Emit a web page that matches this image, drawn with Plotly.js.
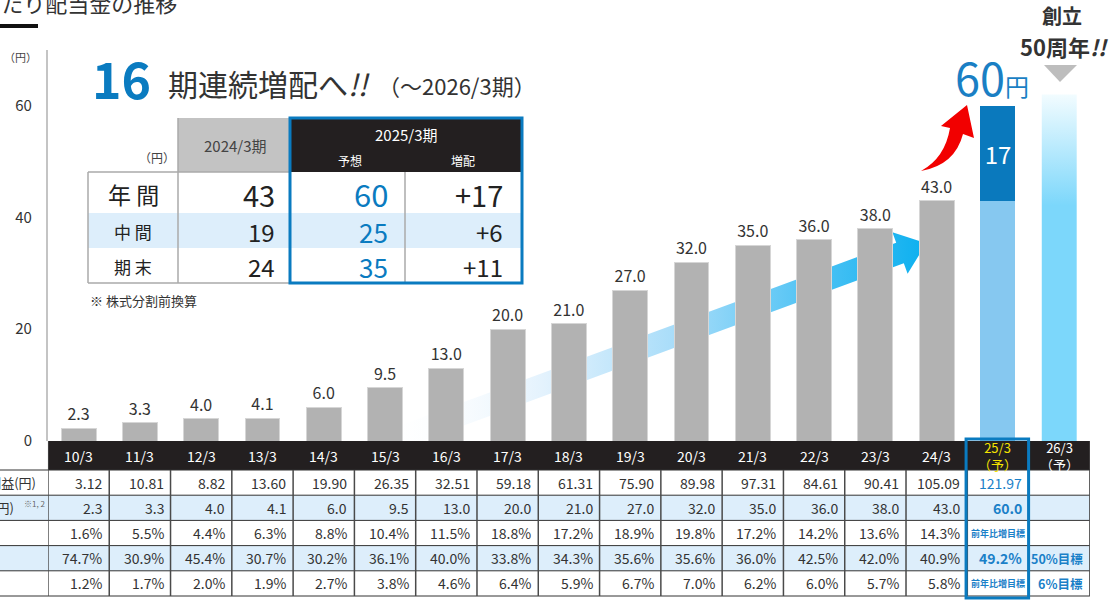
<!DOCTYPE html>
<html><head><meta charset="utf-8">
<script src="https://cdn.plot.ly/plotly-3.0.1.min.js"></script>
<style>html,body{margin:0;padding:0;background:#fff}#chart{width:1111px;height:601px}</style>
</head><body><div id="chart"></div>
<script>
// ---------------- data ----------------
const years = ['10/3','11/3','12/3','13/3','14/3','15/3','16/3','17/3','18/3','19/3','20/3','21/3','22/3','23/3','24/3','25/3','26/3'];
const forecastNote = '（予）';
const dividends = [2.3,3.3,4.0,4.1,6.0,9.5,13.0,20.0,21.0,27.0,32.0,35.0,36.0,38.0,43.0];
const dividendForecast = 60;           // 25/3 (予)
const futureBarHeight = 62;            // 26/3 decorative bar
const eps = [3.12,10.81,8.82,13.60,19.90,26.35,32.51,59.18,61.31,75.90,89.98,97.31,84.61,90.41,105.09];
const epsForecast = 121.97;
const row3 = [1.6,5.5,4.4,6.3,8.8,10.4,11.5,18.8,17.2,18.9,19.8,17.2,14.2,13.6,14.3];
const payout = [74.7,30.9,45.4,30.7,30.2,36.1,40.0,33.8,34.3,35.6,35.6,36.0,42.5,42.0,40.9];
const payoutForecast = 49.2;
const doe = [1.2,1.7,2.0,1.9,2.7,3.8,4.6,6.4,5.9,6.7,7.0,6.2,6.0,5.7,5.8];
const targetText = '前年比増目標';
const payoutTarget2026 = '50%目標';
const doeTarget2026 = '6%目標';
const rowLabels = ['1株当たり当期純利益(円)','1株当たり配当金(円)'];
const yTicks = [0,20,40,60];

const summaryLabels = ['年 間','中 間','期 末'];
const summary2024 = [43,19,24];
const summary2025 = [60,25,35];

// ---------------- geometry helpers ----------------
const W = 1111, H = 601;
const X0 = 78.6, DX = 61.29, Y0 = 441, DY = 5.588;
const px = x => x / W;
const py = y => 1 - y / H;
const toXi = p => (p - X0) / DX;
const toYv = p => (Y0 - p) / DY;
const FONT = '"Noto Sans CJK JP", "Noto Sans", sans-serif';
const BLUE = '#0a7bc0';
const TBLUE = '#1a80c8';
const DARK = '#333333';

const n = years.length;
const histIdx = dividends.map((_, i) => i);
const fIdx = dividends.length;      // 25/3
const futIdx = fIdx + 1;            // 26/3
const barW = 0.57;

// ---------------- traces ----------------
// gradient arrow (base subplot, behind bars)
const S = [360, 452], E = [900, 253];
const len = Math.hypot(E[0]-S[0], E[1]-S[1]);
const d = [(E[0]-S[0])/len, (E[1]-S[1])/len];
const nv = [-d[1], d[0]];
const hw = 11, hh = 22, hl = 28;
const arrowPix = [
  [S[0]+nv[0]*hw, S[1]+nv[1]*hw],
  [E[0]+nv[0]*hw, E[1]+nv[1]*hw],
  [E[0]+nv[0]*hh, E[1]+nv[1]*hh],
  [E[0]+d[0]*hl, E[1]+d[1]*hl],
  [E[0]-nv[0]*hh, E[1]-nv[1]*hh],
  [E[0]-nv[0]*hw, E[1]-nv[1]*hw],
  [S[0]-nv[0]*hw, S[1]-nv[1]*hw],
  [S[0]+nv[0]*hw, S[1]+nv[1]*hw]
];
const arrowTrace = {
  type:'scatter', mode:'lines', xaxis:'x', yaxis:'y',
  x: arrowPix.map(p => toXi(p[0])), y: arrowPix.map(p => toYv(p[1])),
  fill:'toself', line:{width:0, color:'rgba(0,0,0,0)'}, hoverinfo:'skip',
  fillgradient:{type:'horizontal', start: toXi(380), stop: toXi(926),
    colorscale:[[0,'rgba(255,255,255,0)'],[0.3,'#e3f2fd'],[0.55,'#a6dcf9'],[0.8,'#4cc2f4'],[1,'#0cb0ef']]}
};

const grayBars = {
  type:'bar', xaxis:'x2', yaxis:'y2', x: histIdx, y: dividends, width: barW,
  marker:{color:'#b2b2b2', line:{color:'#d6d6d6', width:1}},
  texttemplate:'%{y:.1f}', textposition:'outside', cliponaxis:false,
  textfont:{family:FONT, size:16, color:DARK}, hoverinfo:'skip'
};
const prevPart = {
  type:'bar', xaxis:'x2', yaxis:'y2', x:[fIdx], y:[dividends[dividends.length-1]], width: barW,
  marker:{color:'#86c8f0'}, hoverinfo:'skip'
};
const incPart = {
  type:'bar', xaxis:'x2', yaxis:'y2', x:[fIdx], y:[dividendForecast - dividends[dividends.length-1]], width: barW,
  marker:{color:'#0a79bd'}, text:[String(dividendForecast - dividends[dividends.length-1])],
  textposition:'inside', insidetextanchor:'middle', textangle:0,
  textfont:{family:FONT, size:24, color:'#ffffff'}, hoverinfo:'skip'
};
const futureBar = {
  type:'scatter', mode:'lines', xaxis:'x2', yaxis:'y2',
  x:[futIdx-barW/2, futIdx+barW/2, futIdx+barW/2, futIdx-barW/2, futIdx-barW/2],
  y:[0,0,futureBarHeight,futureBarHeight,0],
  fill:'toself', line:{width:0, color:'rgba(0,0,0,0)'}, hoverinfo:'skip',
  fillgradient:{type:'vertical', start:0, stop:futureBarHeight,
    colorscale:[[0,'#7cd7fb'],[0.68,'#7cd7fb'],[1,'#f2fcff']]}
};

// ---------------- shapes & annotations ----------------
const shapes = [];
const ann = [];
function rectPx(x0,y0,x1,y1,fill,line){
  shapes.push({type:'rect', xref:'paper', yref:'paper', x0:px(x0), x1:px(x1), y0:py(y0), y1:py(y1),
    fillcolor:fill||'rgba(0,0,0,0)', line: line || {width:0}});
}
function linePx(x0,y0,x1,y1,color,width){
  shapes.push({type:'line', xref:'paper', yref:'paper', x0:px(x0), x1:px(x1), y0:py(y0), y1:py(y1),
    line:{color:color, width:width}});
}
function txt(x,y,text,size,color,opt){
  ann.push(Object.assign({xref:'paper', yref:'paper', x:px(x), y:py(y), text:text, showarrow:false,
    xanchor:'center', yanchor:'middle', font:{family:FONT, size:size, color:color||DARK}}, opt||{}));
}
function pathPx(pts){
  return pts.map(p => p[0] + ' ' + p.slice(1).map((v,k)=> k%2===0 ? px(v).toFixed(5) : py(v).toFixed(5)).join(',')).join(' ');
}

// page title (cut off) & underline
txt(179, 2, '1株当たり配当金の推移', 22, DARK, {xanchor:'right'});
rectPx(0, 24, 38, 28, '#111');
// y unit
txt(20, 57, '（円）', 11, '#444');

// headline
txt(90, 77, '<b>16</b>', 50, BLUE, {xanchor:'left'});
txt(166, 83, '期連続増配へ<i>!!</i>', 30, DARK, {xanchor:'left'});
txt(376, 85, '（～2026/3期）', 22, DARK, {xanchor:'left'});

// summary table
rectPx(178, 118, 290, 172, '#c3c3c3');
rectPx(290, 118, 522, 172, '#231f20');
rectPx(88, 213, 522, 248, '#ddeefb');
linePx(88, 172, 290, 172, '#aaaaaa', 1.5);
linePx(88, 172, 88, 283, '#aaaaaa', 1.5);
linePx(178, 118, 178, 283, '#aaaaaa', 1.5);
linePx(88, 283, 290, 283, '#aaaaaa', 1.5);
linePx(405, 172, 405, 283, '#aaaaaa', 1.5);
rectPx(290, 118, 522, 283, null, {color:BLUE, width:3});
txt(177, 157, '（円）', 12, '#444', {xanchor:'right'});
txt(235, 145, '2024/3期', 15, '#444');
txt(406, 134, '2025/3期', 15, '#ffffff');
txt(350, 160, '予想', 12, '#ffffff');
txt(463, 160, '増配', 12, '#ffffff');
const sumY = [194, 231, 266];
const sumFont = [[23,29,31,29],[17,24,26,24],[17,24,26,24]];
summaryLabels.forEach((lab, r) => {
  txt(133, sumY[r], lab, sumFont[r][0], '#222');
  txt(277, sumY[r], String(summary2024[r]), sumFont[r][1], '#222', {xanchor:'right'});
  txt(390, sumY[r], String(summary2025[r]), sumFont[r][2], BLUE, {xanchor:'right'});
  txt(505, sumY[r], '+' + (summary2025[r] - summary2024[r]), sumFont[r][3], '#222', {xanchor:'right'});
});
txt(88, 300, '※ 株式分割前換算', 13, DARK, {xanchor:'left'});

// 60円 + red arrow
txt(953, 76, '60<span style="font-size:24px">円</span>', 45, '#1a7fc4', {xanchor:'left'});
shapes.push({type:'path', xref:'paper', yref:'paper', fillcolor:'#f20000', line:{width:0},
  path: pathPx([['M',921,171],['Q',945,158,950,128],['L',941,126],['L',967,105],['L',974,138],['L',963,134],['Q',955,165,921,171]]) + ' Z'});

// 創立50周年
txt(1062, 16, '<b>創立</b>', 20, DARK, {borderpad:0});
txt(1064, 46, '<b>50周年<i>!!</i></b>', 22, DARK, {borderpad:0});
shapes.push({type:'path', xref:'paper', yref:'paper', fillcolor:'#bdbdbd', line:{width:0},
  path: pathPx([['M',1044,65],['L',1077,65],['L',1060,82]]) + ' Z'});

// ---------------- data table ----------------
const tableTop = 441, headerH = 29, rowH = 25.2, nRows = 5;
const rowBounds = [tableTop, tableTop + headerH];
for (let r = 1; r <= nRows; r++) rowBounds.push(tableTop + headerH + r * rowH);
const rowMid = r => (rowBounds[r+1] + rowBounds[r+2]) / 2;
const tableRight = X0 + (n - 0.5) * DX;
const tableLeft = X0 - 0.5 * DX;

rectPx(tableLeft, rowBounds[0], tableRight, rowBounds[1], '#231f20');
[1, 3].forEach(r => rectPx(0, rowBounds[r+1], tableRight, rowBounds[r+2], '#ddeefb'));
for (let k = 1; k < rowBounds.length; k++) linePx(0, rowBounds[k], tableRight, rowBounds[k], '#333', 1);
for (let i = -1; i < n; i++) {
  shapes.push({type:'line', xref:'x', yref:'paper', x0:i+0.5, x1:i+0.5,
    y0:py(rowBounds[1]), y1:py(rowBounds[rowBounds.length-1]), line:{color:'#4a4a4a', width:1.5}});
}
shapes.push({type:'line', xref:'x', yref:'paper', x0:-0.5, x1:-0.5,
  y0:py(rowBounds[0]), y1:py(rowBounds[1]), line:{color:'#4a4a4a', width:1.5}});

years.forEach((yr, i) => {
  const isF = i >= fIdx;
  const color = (i === fIdx) ? '#f5e400' : '#ffffff';
  const text = isF ? yr + '<br>' + forecastNote : yr;
  ann.push({xref:'x', yref:'paper', x:i, y:py((rowBounds[0]+rowBounds[1])/2), text:text, showarrow:false,
    xanchor:'center', yanchor:'middle', font:{family:FONT, size: isF ? 13 : 14, color:color}});
});

const padX = 5 / DX;
function cell(i, r, text, opt){
  const o = opt || {};
  ann.push({xref:'x', yref:'paper', x: o.center ? i : i + 0.5 - padX, y: py(rowMid(r)), text:text, showarrow:false,
    xanchor: o.center ? 'center' : 'right', yanchor:'middle',
    font:{family:FONT, size:o.size||14, color:o.color||DARK}});
}
histIdx.forEach(i => {
  cell(i, 0, eps[i].toFixed(2));
  cell(i, 1, dividends[i].toFixed(1));
  cell(i, 2, row3[i].toFixed(1) + '%');
  cell(i, 3, payout[i].toFixed(1) + '%');
  cell(i, 4, doe[i].toFixed(1) + '%');
});
cell(fIdx, 0, epsForecast.toFixed(2), {color:TBLUE});
cell(fIdx, 1, '<b>' + dividendForecast.toFixed(1) + '</b>', {color:TBLUE});
cell(fIdx, 2, '<b>' + targetText + '</b>', {color:TBLUE, size:9, center:true});
cell(fIdx, 3, '<b>' + payoutForecast.toFixed(1) + '%</b>', {color:TBLUE});
cell(fIdx, 4, '<b>' + targetText + '</b>', {color:TBLUE, size:9, center:true});
cell(futIdx, 3, '<b>' + payoutTarget2026 + '</b>', {color:TBLUE, size:12.5});
cell(futIdx, 4, '<b>' + doeTarget2026 + '</b>', {color:TBLUE, size:12.5});

shapes.push({type:'rect', xref:'x', yref:'paper', x0:fIdx-0.52, x1:fIdx+0.5, y0:py(439), y1:py(598),
  line:{color:BLUE, width:3}, fillcolor:'rgba(0,0,0,0)'});

ann.push({xref:'paper', yref:'paper', x:px(38), y:py(rowMid(0)), text:rowLabels[0], showarrow:false,
  xanchor:'right', yanchor:'middle', font:{family:FONT, size:13, color:DARK}});
ann.push({xref:'paper', yref:'paper', x:px(16), y:py(rowMid(1)), text:rowLabels[1], showarrow:false,
  xanchor:'right', yanchor:'middle', font:{family:FONT, size:13, color:DARK}});
txt(22, rowMid(1) - 4, '※1, 2', 8, '#666', {xanchor:'left'});

// ---------------- layout ----------------
const xDomain = [px(tableLeft), px(tableRight)];
const yDomain = [py(Y0), py(Y0 - 70 * DY)];
const layout = {
  width: W, height: H,
  margin:{l:0, r:0, t:0, b:0},
  paper_bgcolor:'#ffffff', plot_bgcolor:'rgba(0,0,0,0)',
  showlegend:false, barmode:'stack',
  font:{family:FONT, color:DARK},
  xaxis:{domain:xDomain, range:[-0.5, n-0.5], visible:false, fixedrange:true},
  yaxis:{domain:yDomain, range:[0,70], tickvals:yTicks, showgrid:false, zeroline:false,
    showline:true, linecolor:'#c4c4c4', linewidth:2, ticks:'', ticklabelstandoff:11,
    tickfont:{family:FONT, size:15, color:DARK}, fixedrange:true},
  xaxis2:{overlaying:'x', domain:xDomain, range:[-0.5, n-0.5], visible:false, fixedrange:true},
  yaxis2:{overlaying:'y', domain:yDomain, range:[0,70], visible:false, fixedrange:true},
  shapes: shapes,
  annotations: ann
};

Plotly.newPlot('chart', [arrowTrace, grayBars, prevPart, incPart, futureBar], layout, {staticPlot:true, displayModeBar:false});
</script>
</body></html>
